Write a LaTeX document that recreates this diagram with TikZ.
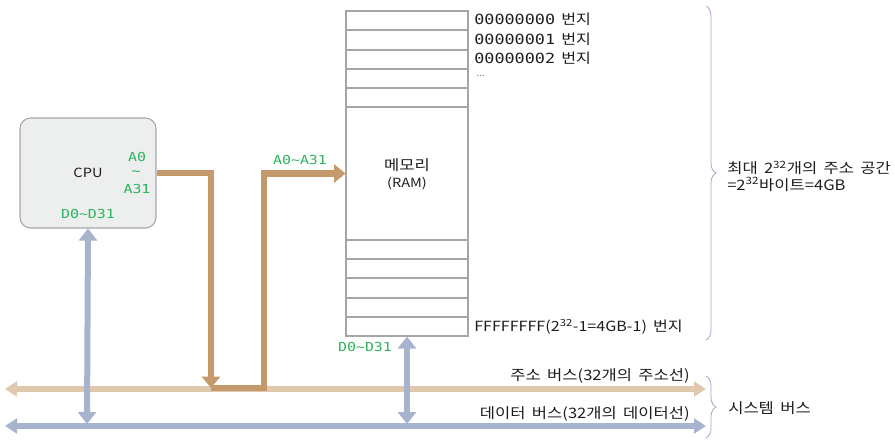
\documentclass[tikz,border=0pt]{standalone}
\usepackage{fontspec}
\setmainfont[FakeStretch=1.15, WordSpace=1.7]{Noto Sans CJK KR}
\newfontfamily\monof[FakeStretch=1.2]{DejaVu Sans Mono}
\usetikzlibrary{arrows.meta,decorations.pathreplacing}
\definecolor{addrbus}{HTML}{E0C8AC}
\definecolor{addrpath}{HTML}{C49A6C}
\definecolor{databus}{HTML}{A8B4CD}
\definecolor{grn}{HTML}{2EB35E}
\definecolor{boxgray}{HTML}{A6A6A6}
\definecolor{cpufill}{HTML}{EDEFEE}
\definecolor{bracec}{HTML}{9AAAC6}
\definecolor{txt}{HTML}{1E1E1E}
\tikzset{
  abus/.style={draw=addrbus, line width=4pt, {Triangle[width=11pt,length=9pt]}-{Triangle[width=11pt,length=9pt]}},
  dbus/.style={draw=databus, line width=4pt, {Triangle[width=11pt,length=9pt]}-{Triangle[width=11pt,length=9pt]}},
  dlink/.style={draw=databus, line width=4.5pt, {Triangle[width=13.5pt,length=9pt]}-{Triangle[width=13.5pt,length=9pt]}},
  apath/.style={draw=addrpath, line width=5pt, line join=miter, -{Triangle[width=13.5pt,length=8.5pt]}},
  cpubox/.style={draw=boxgray, fill=cpufill, rounded corners=8pt, line width=0.8pt,
    minimum width=102pt, minimum height=82.5pt},
  membox/.style={draw=boxgray, line width=0.8pt, minimum width=91.5pt, minimum height=243.75pt},
  memline/.style={draw=boxgray, line width=0.8pt},
  gl/.style={text=grn, font=\monof\fontsize{9.3}{10}\selectfont, inner sep=0pt},
  lbl/.style={text=txt, font=\fontsize{10.8}{12.5}\selectfont, inner sep=0pt},
  latin/.style={text=txt, font=\fontsize{9.5}{11}\selectfont, inner sep=0pt},
  addr/.style={text=txt, font=\fontsize{10.5}{12}\selectfont, inner sep=0pt, anchor=west},
  brc/.style={draw=bracec, line width=0.6pt, decorate, decoration={brace, amplitude=7.5pt}},
}
\begin{document}
\begin{tikzpicture}[x=0.75pt, y=-0.75pt]
\useasboundingbox (0,0) rectangle (895,440);
% buses
\coordinate (aL) at (5,389);
\coordinate (aR) at (706,389);
\coordinate (dL) at (5,426);
\coordinate (dR) at (706,426);
\draw[abus] (aL) -- (aR);
\draw[dbus] (dL) -- (dR);
% CPU
\node[cpubox] (cpu) at (88,173) {};
\node[latin] (cpulbl) at (88,173) {CPU};
\node[gl] (a0) at (137,157) {A0};
\node[gl] (tl) at (136,173) {\char`\~};
\node[gl] (a31) at (137,189) {A31};
\node[gl] (cd) at (88,214) {D0\char`\~D31};
% memory
\node[membox] (mem) at (407,173.5) {};
\foreach \y in {30,50,69,88,107,240,259,278,298,317}
  \draw[memline] (346,\y) -- (468,\y);
\node[lbl, align=center] (memlbl) at (407,174) {메모리\\[0pt]{\fontsize{9.5}{11}\selectfont(RAM)}};
% address labels
\node[addr] (ad0) at (474,19) {{\monof 00000000} 번지};
\node[addr] (ad1) at (474,39) {{\monof 00000001} 번지};
\node[addr] (ad2) at (474,58) {{\monof 00000002} 번지};
\node[addr, text=gray] (ad3) at (476,76) {\fontsize{7}{8}\selectfont ...};
\node[addr] (adF) at (474,327) {FFFFFFFF(2\textsuperscript{32}-1=4GB-1) 번지};
% address path
\coordinate (j1) at (211,388);
\coordinate (j2) at (264,388);
\draw[apath] (cpu.east) -| (j1);
\draw[apath] (j1) -- (j2) |- (mem.west);
\node[gl] (ma) at (300,160) {A0\char`\~A31};
% data links
\coordinate (cdb) at (87,424);
\coordinate (mdb) at (407,424);
\draw[dlink] (cpu.south) -- (cdb);
\draw[dlink] (mem.south) -- (mdb);
\node[gl] (md) at (365,347) {D0\char`\~D31};
% bus labels
\node[lbl, anchor=east] (abl) at (690,376) {주소 버스(32개의 주소선)};
\node[lbl, anchor=east] (dbl) at (690,414) {데이터 버스(32개의 데이터선)};
% braces
\draw[brc] (706,6) -- (706,340);
\draw[brc] (706,376) -- (706,438);
\node[lbl, anchor=west, align=left] (space) at (727,176) {최대 2\textsuperscript{32}개의 주소 공간\\=2\textsuperscript{32}바이트=4GB};
\node[lbl, anchor=west] (sysbus) at (728,408) {시스템 버스};
\end{tikzpicture}
\end{document}
